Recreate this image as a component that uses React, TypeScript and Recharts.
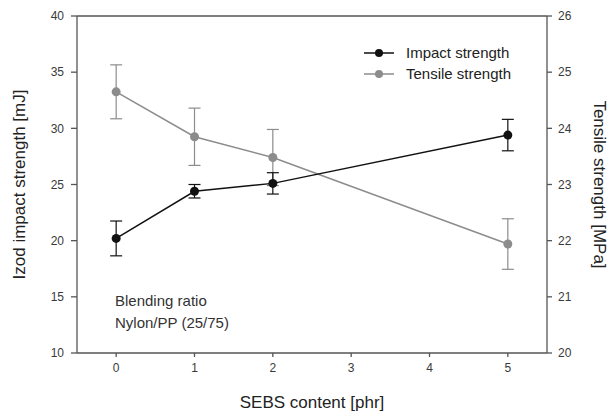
import {
  LineChart,
  Line,
  XAxis,
  YAxis,
  ErrorBar,
  Label,
  ReferenceLine,
} from 'recharts';

const sebsContent = [0, 1, 2, 5];
const impactStrength = [20.2, 24.4, 25.1, 29.4];
const impactError = [1.55, 0.6, 0.95, 1.4];
const tensileStrength = [24.65, 23.85, 23.48, 21.94];
const tensileError = [0.48, 0.51, 0.5, 0.45];

const xTicks = [0, 1, 2, 3, 4, 5];
const leftTicks = [10, 15, 20, 25, 30, 35, 40];
const rightTicks = [20, 21, 22, 23, 24, 25, 26];

const IMPACT_COLOR = '#111111';
const TENSILE_COLOR = '#8c8c8c';
const AXIS_COLOR = '#555555';
const FONT = 'Liberation Sans, Arial, sans-serif';

const chartData = sebsContent.map((x, i) => ({
  x,
  impact: impactStrength[i],
  impactErr: impactError[i],
  tensile: tensileStrength[i],
  tensileErr: tensileError[i],
}));

function LegendBox() {
  const row = (label: string, color: string) => (
    <div style={{ display: 'flex', alignItems: 'center', height: 21 }}>
      <svg width={32} height={12} style={{ marginRight: 11 }}>
        <line x1={1} y1={6} x2={31} y2={6} stroke={color} strokeWidth={1.5} />
        <circle cx={16} cy={6} r={4} fill={color} />
      </svg>
      <span style={{ fontSize: 15, color: '#222', fontFamily: FONT }}>{label}</span>
    </div>
  );
  return (
    <div style={{ position: 'absolute', left: 363, top: 42 }}>
      {row('Impact strength', IMPACT_COLOR)}
      {row('Tensile strength', TENSILE_COLOR)}
    </div>
  );
}

export default function App() {
  const tickStyle = { fill: '#3a3a3a', fontSize: 12, fontFamily: FONT };
  return (
    <div style={{ position: 'absolute', left: 0, top: 0, width: 615, height: 414, background: '#fff' }}>
      <LineChart
        width={615}
        height={414}
        data={chartData}
        margin={{ top: 16, right: 0, bottom: 0, left: 0 }}
        style={{ fontFamily: FONT }}
      >
        <XAxis
          dataKey="x"
          type="number"
          domain={[-0.5, 5.5]}
          ticks={xTicks}
          height={61}
          stroke={AXIS_COLOR}
          strokeWidth={1.3}
          tickSize={4}
          tick={tickStyle}
          tickMargin={6}
        >
          <Label value="SEBS content [phr]" position="center" dy={18} style={{ fontSize: 17, fill: '#222' }} />
        </XAxis>
        <YAxis
          yAxisId="left"
          domain={[10, 40]}
          ticks={leftTicks}
          width={77}
          stroke={AXIS_COLOR}
          strokeWidth={1.3}
          tickSize={6}
          tick={tickStyle}
          tickMargin={7}
        >
          <Label value="Izod impact strength [mJ]" angle={-90} position="center" dx={-20} style={{ fontSize: 17, fill: '#222' }} />
        </YAxis>
        <YAxis
          yAxisId="right"
          orientation="right"
          domain={[20, 26]}
          ticks={rightTicks}
          width={68}
          stroke={AXIS_COLOR}
          strokeWidth={1.3}
          tickSize={5}
          tick={tickStyle}
          tickMargin={6}
        >
          <Label value="Tensile strength [MPa]" angle={90} position="center" dx={19} style={{ fontSize: 17, fill: '#222' }} />
        </YAxis>
        <ReferenceLine yAxisId="left" y={40} stroke={AXIS_COLOR} strokeWidth={1.3} />
        <Line
          yAxisId="right"
          dataKey="tensile"
          stroke={TENSILE_COLOR}
          strokeWidth={1.5}
          dot={{ r: 4.5, fill: TENSILE_COLOR, stroke: TENSILE_COLOR, strokeWidth: 0 }}
          isAnimationActive={false}
        >
          <ErrorBar dataKey="tensileErr" direction="y" width={6} stroke={TENSILE_COLOR} strokeWidth={1.2} />
        </Line>
        <Line
          yAxisId="left"
          dataKey="impact"
          stroke={IMPACT_COLOR}
          strokeWidth={1.5}
          dot={{ r: 4.5, fill: IMPACT_COLOR, stroke: IMPACT_COLOR, strokeWidth: 0 }}
          isAnimationActive={false}
        >
          <ErrorBar dataKey="impactErr" direction="y" width={6} stroke={IMPACT_COLOR} strokeWidth={1.2} />
        </Line>
      </LineChart>
      <LegendBox />
      <div
        style={{
          position: 'absolute',
          left: 115,
          top: 290,
          fontSize: 15,
          lineHeight: '22px',
          color: '#333',
          fontFamily: FONT,
        }}
      >
        Blending ratio
        <br />
        Nylon/PP (25/75)
      </div>
    </div>
  );
}
